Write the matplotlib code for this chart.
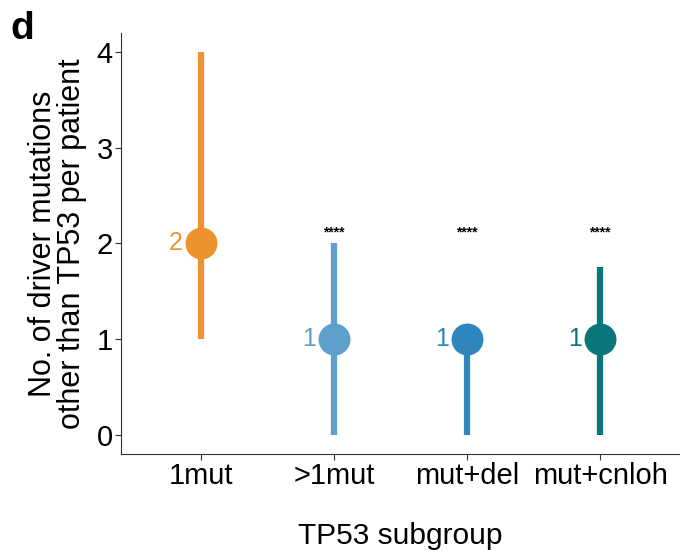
import numpy as np
import matplotlib.pyplot as plt

plt.rcParams['font.family'] = ['Liberation Sans', 'DejaVu Sans']

groups = ["1mut", ">1mut", "mut+del", "mut+cnloh"]
medians = [2, 1, 1, 1]
lows = [1, 0, 0, 0]
highs = [4, 2, 1, 1.75]
signif = ["", "****", "****", "****"]
colors = ["#EE922F", "#5DA0CB", "#2E86BC", "#08767A"]

fig = plt.figure(figsize=(6.8, 5.57), dpi=100)
ax = fig.add_axes([0.178, 0.185, 0.822, 0.756])

x = np.arange(1, len(groups) + 1)
for i in range(len(groups)):
    ax.plot([x[i], x[i]], [lows[i], highs[i]], color=colors[i], lw=4.5,
            solid_capstyle="butt", zorder=2)
    ax.plot(x[i], medians[i], "o", color=colors[i], ms=23, mec="none", zorder=3)
    ax.annotate(str(medians[i]), (x[i], medians[i]), xytext=(-13, 0),
                textcoords="offset points", ha="right", va="center",
                fontsize=18, color=colors[i])
    if signif[i]:
        ax.text(x[i], 2.11, signif[i], ha="center", va="center", fontsize=10,
                fontweight="bold")

ax.set_xlim(0.4, 4.6)
ax.set_ylim(-0.2, 4.2)
ax.set_xticks(x)
ax.set_xticklabels(groups)
ax.set_yticks([0, 1, 2, 3, 4])
ax.tick_params(labelsize=21, length=4, width=0.8, color="#333333", pad=2)
ax.spines["top"].set_visible(False)
ax.spines["right"].set_visible(False)
for s in ["left", "bottom"]:
    ax.spines[s].set_color("#333333")
    ax.spines[s].set_linewidth(0.8)

ax.set_xlabel("TP53 subgroup", fontsize=21.5, labelpad=23)
ax.set_ylabel("No. of driver mutations\nother than TP53 per patient", fontsize=22,
              linespacing=0.95)
ax.yaxis.set_label_coords(-0.061, 0.5)

fig.text(0.015, 0.98, "d", fontsize=28, fontweight="bold", va="top")

fig.savefig("out.png", dpi=100)
